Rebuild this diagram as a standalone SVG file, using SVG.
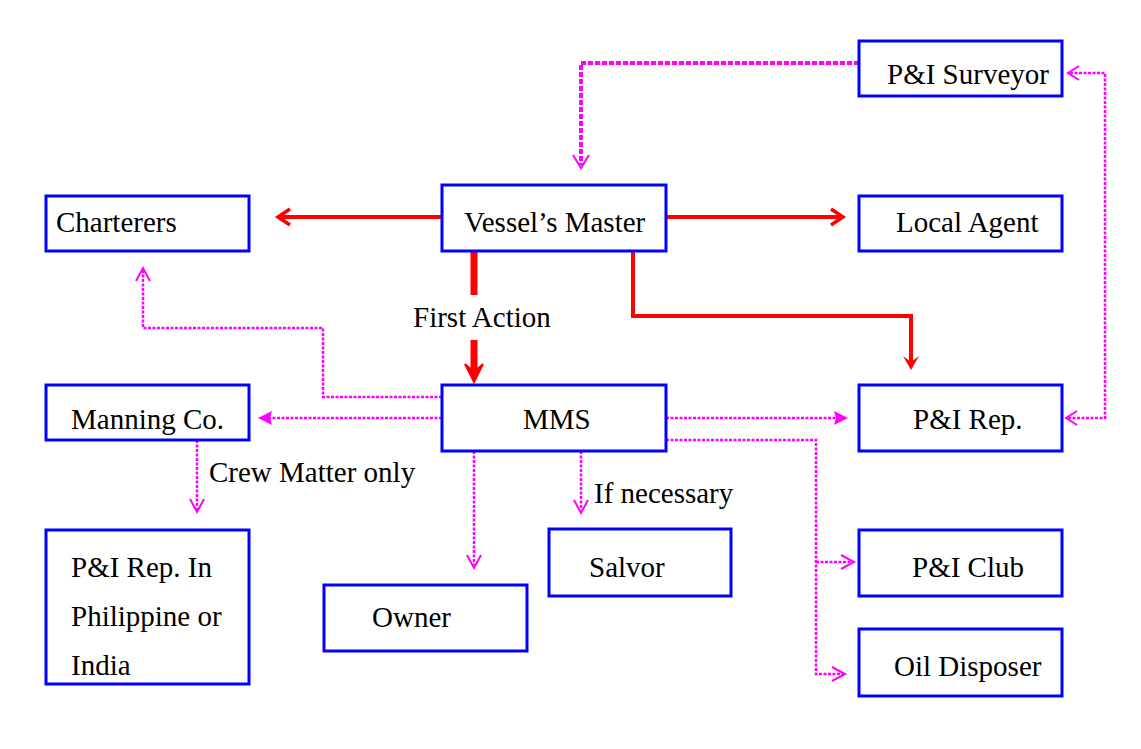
<svg xmlns="http://www.w3.org/2000/svg" width="1141" height="749" viewBox="0 0 1141 749">
<style>
.box{fill:#fff;stroke:#0000ff;stroke-width:3}
text{font-family:"Liberation Serif","Times New Roman","DejaVu Serif",serif;font-size:29px;fill:#000}
.red{stroke:#ff0000;fill:none;stroke-width:4}
.mag{stroke:#ff00ff;fill:none;stroke-width:2.5;stroke-dasharray:3 1.5}
.magT{stroke:#ff00ff;fill:none;stroke-width:4;stroke-dasharray:5 2}
.hd{stroke:#ff00ff;fill:none;stroke-width:2}
.hdr{stroke:#ff0000;fill:none;stroke-width:3.5}
</style>
<rect width="1141" height="749" fill="#fff"/>
<g id="connectors">
<path class="red" d="M442,217 H278"/>
<path class="hdr" d="M290,209 L278,217 L290,225"/>
<path class="red" d="M666,217 H843"/>
<path class="hdr" d="M831,209 L843,217 L831,225"/>
<path stroke="#ff0000" stroke-width="7" fill="none" d="M474,251 V295 M474,340 V372"/>
<path fill="#ff0000" stroke="#ff0000" stroke-width="2" d="M465,364 L474,382 L483,364 L474,372 Z"/>
<path class="red" stroke-width="3" d="M633,251 V316 H911 V366"/>
<path fill="#ff0000" d="M903,356 L911,370 L919,356 L911,362 Z"/>
<path class="magT" d="M859,63 H581 V165"/>
<path class="hd" stroke-width="3" d="M573,155 L581,168 L589,155"/>
<path class="mag" d="M1070,73 H1105 V418 H1067"/>
<path class="hd" d="M1079,66 L1068,73 L1079,80"/>
<path class="hd" d="M1077,411 L1066,418 L1077,425"/>
<path class="mag" d="M442,397 H323 V328 H143 V270"/>
<path class="hd" d="M136,281 L143,268 L150,281"/>
<path class="mag" d="M442,418 H268"/>
<path fill="#ff00ff" d="M258,418 L272,411 L270,418 L272,425 Z"/>
<path class="mag" d="M197,440 V510"/>
<path class="hd" d="M190,499 L197,512 L204,499"/>
<path class="mag" d="M474,451 V565"/>
<path class="hd" d="M467,555 L474,568 L481,555"/>
<path class="mag" d="M581,451 V510"/>
<path class="hd" d="M574,500 L581,513 L588,500"/>
<path class="mag" d="M666,418 H838"/>
<path fill="#ff00ff" d="M848,418 L834,411 L836,418 L834,425 Z"/>
<path class="mag" d="M666,440 H816 V674 H843"/>
<path class="mag" d="M816,562 H852"/>
<path class="hd" d="M841,555 L854,562 L841,569"/>
<path class="hd" d="M832,667 L845,674 L832,681"/>
</g>
<g id="labels">
<text x="413" y="327">First Action</text>
<text x="209" y="482">Crew Matter only</text>
<text x="594" y="503">If necessary</text>
</g>
<g id="n-surveyor"><rect class="box" x="859" y="41" width="203" height="55"/><text x="887" y="84">P&amp;I Surveyor</text></g>
<g id="n-charterers"><rect class="box" x="46" y="196" width="203" height="55"/><text x="56" y="232">Charterers</text></g>
<g id="n-master"><rect class="box" x="442" y="185" width="224" height="66"/><text x="464" y="232">Vessel’s Master</text></g>
<g id="n-agent"><rect class="box" x="859" y="196" width="203" height="55"/><text x="896" y="232">Local Agent</text></g>
<g id="n-manning"><rect class="box" x="46" y="385" width="203" height="55"/><text x="71" y="429">Manning Co.</text></g>
<g id="n-mms"><rect class="box" x="442" y="385" width="224" height="66"/><text x="523" y="429">MMS</text></g>
<g id="n-pirep"><rect class="box" x="859" y="385" width="203" height="66"/><text x="913" y="429">P&amp;I Rep.</text></g>
<g id="n-pirep-in"><rect class="box" x="46" y="530" width="203" height="154"/><text x="71" y="577">P&amp;I Rep. In</text><text x="71" y="626">Philippine or</text><text x="71" y="675">India</text></g>
<g id="n-salvor"><rect class="box" x="549" y="529" width="182" height="67"/><text x="589" y="577">Salvor</text></g>
<g id="n-owner"><rect class="box" x="324" y="585" width="203" height="66"/><text x="372" y="627">Owner</text></g>
<g id="n-club"><rect class="box" x="859" y="530" width="203" height="66"/><text x="912" y="577">P&amp;I Club</text></g>
<g id="n-oil"><rect class="box" x="859" y="629" width="203" height="67"/><text x="894" y="676">Oil Disposer</text></g>
</svg>
